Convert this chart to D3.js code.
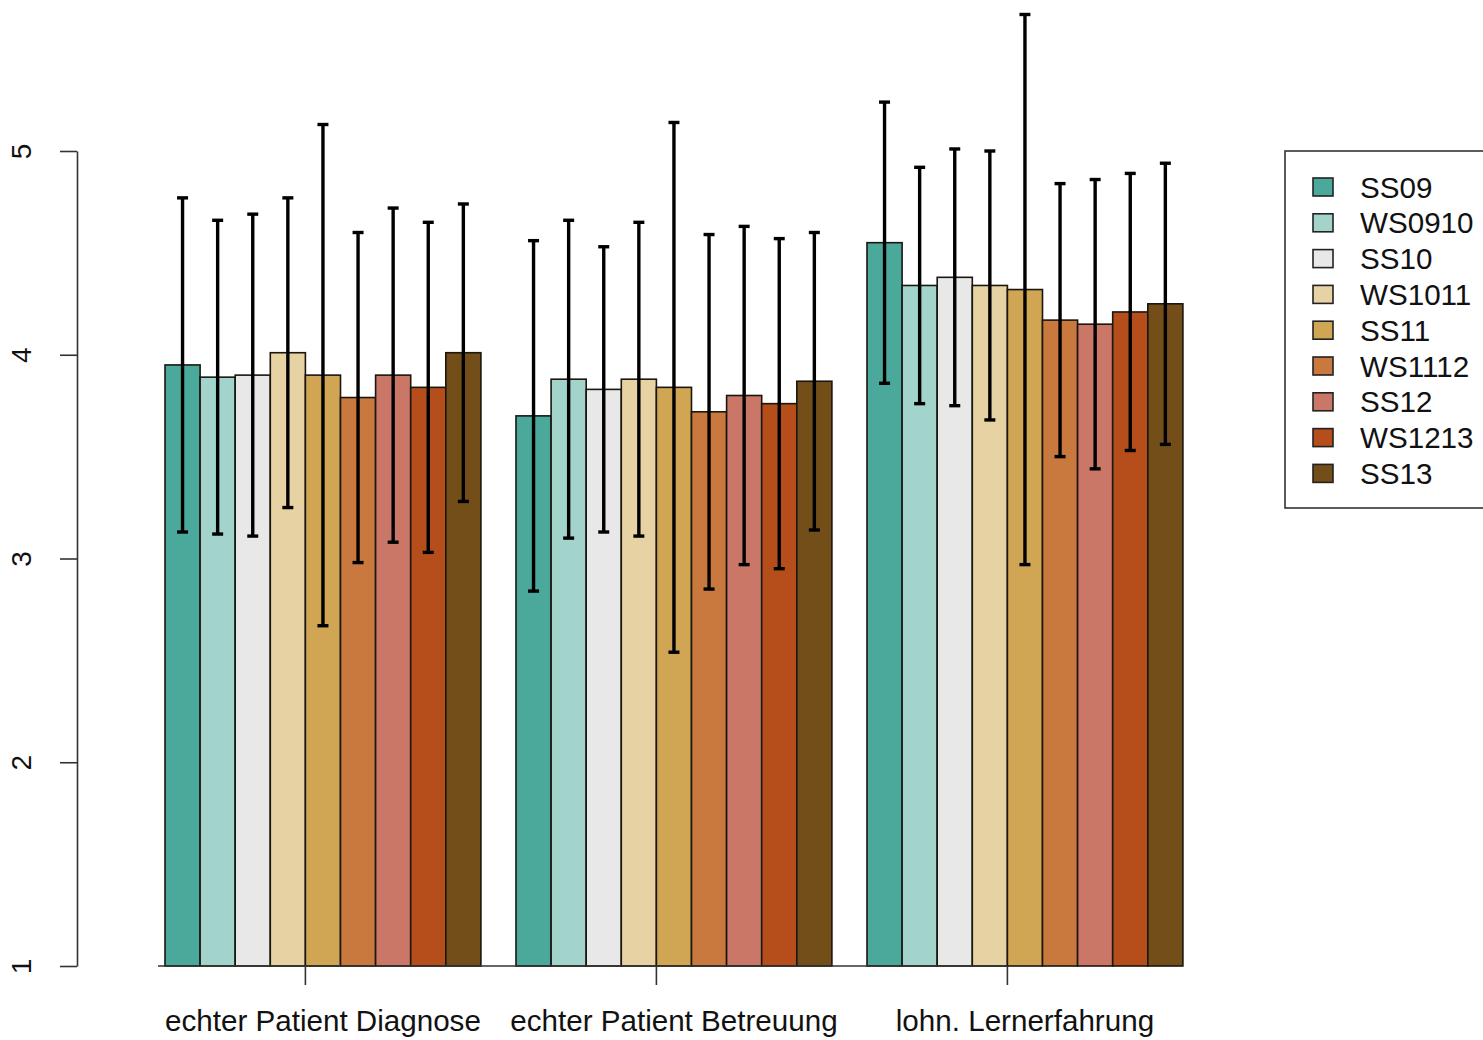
<!DOCTYPE html>
<html>
<head>
<meta charset="utf-8">
<script src="https://cdn.jsdelivr.net/npm/d3@7"></script>
<style>
  html, body { margin: 0; padding: 0; background: #fff; }
  svg { display: block; }
  text { font-family: "Liberation Sans", Arial, Helvetica, sans-serif; fill: #111; }
</style>
</head>
<body>
<svg id="chart" width="1483" height="1040"></svg>
<script>
// Item groups on the x axis
const categories = ["echter Patient Diagnose", "echter Patient Betreuung", "lohn. Lernerfahrung"];
// Semesters (one bar per semester inside each group)
const semesters = ["SS09", "WS0910", "SS10", "WS1011", "SS11", "WS1112", "SS12", "WS1213", "SS13"];
const semesterColors = ["#4aa99b", "#a2d4cb", "#e8e8e8", "#e7d2a3", "#d0a553", "#c9783e", "#ca7768", "#b54e1b", "#734e19"];

// Mean ratings, one array per group, ordered as in `semesters`
const meansDiagnose   = [3.95, 3.89, 3.90, 4.01, 3.90, 3.79, 3.90, 3.84, 4.01];
const meansBetreuung  = [3.70, 3.88, 3.83, 3.88, 3.84, 3.72, 3.80, 3.76, 3.87];
const meansLernerf    = [4.55, 4.34, 4.38, 4.34, 4.32, 4.17, 4.15, 4.21, 4.25];
// Standard deviations (half-length of the error bars)
const sdDiagnose      = [0.82, 0.77, 0.79, 0.76, 1.23, 0.81, 0.82, 0.81, 0.73];
const sdBetreuung     = [0.86, 0.78, 0.70, 0.77, 1.30, 0.87, 0.83, 0.81, 0.73];
const sdLernerf       = [0.69, 0.58, 0.63, 0.66, 1.35, 0.67, 0.71, 0.68, 0.69];

const yTicks = [1, 2, 3, 4, 5];

const means = [meansDiagnose, meansBetreuung, meansLernerf];
const sds = [sdDiagnose, sdBetreuung, sdLernerf];

const svg = d3.select("#chart");

// Bar slots: each group holds one spacer slot followed by nine bars
const slotsPerGroup = semesters.length + 1;
const x = d3.scaleLinear().domain([0, categories.length * slotsPerGroup]).range([129.9, 129.9 + 30 * 35.1]);
const y = d3.scaleLinear().domain([1, 5]).range([966, 151]);

const bars = [];
categories.forEach((c, g) => {
  semesters.forEach((s, i) => {
    bars.push({ g, i, mean: means[g][i], sd: sds[g][i], color: semesterColors[i], x0: g * slotsPerGroup + 1 + i });
  });
});

// Bars
svg.append("g").selectAll("rect").data(bars).join("rect")
  .attr("x", d => x(d.x0))
  .attr("y", d => y(d.mean))
  .attr("width", d => x(d.x0 + 1) - x(d.x0))
  .attr("height", d => y(1) - y(d.mean))
  .attr("fill", d => d.color)
  .attr("stroke", "#1a1610")
  .attr("stroke-width", 1.6);

// Error bars (mean ± sd)
const eb = svg.append("g").attr("stroke", "#000").attr("stroke-width", 3.4).attr("fill", "none");
bars.forEach(d => {
  const cx = x(d.x0 + 0.5);
  const top = y(d.mean + d.sd), bot = y(d.mean - d.sd);
  eb.append("line").attr("x1", cx).attr("x2", cx).attr("y1", top).attr("y2", bot);
  eb.append("line").attr("x1", cx - 5.5).attr("x2", cx + 5.5).attr("y1", top).attr("y2", top);
  eb.append("line").attr("x1", cx - 5.5).attr("x2", cx + 5.5).attr("y1", bot).attr("y2", bot);
});

// Y axis (R style: rotated labels, ticks pointing left)
const yAxis = d3.axisLeft(y).tickValues(yTicks).tickSize(17).tickSizeOuter(0).tickPadding(0).tickFormat(d3.format("d"));
const gy = svg.append("g").attr("transform", "translate(77,0)").call(yAxis);
gy.select(".domain").attr("stroke", "#333").attr("stroke-width", 1.6);
gy.selectAll(".tick line").attr("stroke", "#333").attr("stroke-width", 1.6);
gy.selectAll(".tick text")
  .attr("x", 0).attr("dy", null)
  .attr("transform", "translate(-53,0) rotate(-90)")
  .attr("text-anchor", "middle")
  .attr("dominant-baseline", "middle")
  .style("font-size", "28px");

// X axis: baseline with ticks between 4th and 5th bar of each group
const tickPos = categories.map((c, g) => g * slotsPerGroup + 5);
const ax = svg.append("g").attr("stroke", "#333").attr("stroke-width", 1.6);
ax.append("line").attr("x1", x(0.8)).attr("x2", x(tickPos[tickPos.length - 1])).attr("y1", y(1)).attr("y2", y(1));
tickPos.forEach(t => {
  ax.append("line").attr("x1", x(t)).attr("x2", x(t)).attr("y1", y(1)).attr("y2", y(1) + 19);
});
svg.append("g").selectAll("text").data(categories).join("text")
  .attr("x", (c, g) => x(g * slotsPerGroup + 5.5))
  .attr("y", 1031)
  .attr("text-anchor", "middle")
  .style("font-size", "29.6px")
  .text(c => c);

// Legend
const lg = svg.append("g");
lg.append("rect").attr("x", 1285).attr("y", 151).attr("width", 260).attr("height", 357)
  .attr("fill", "#fff").attr("stroke", "#333").attr("stroke-width", 1.6);
semesters.forEach((s, i) => {
  const cy = 187 + i * 35.8;
  lg.append("rect").attr("x", 1313).attr("y", cy - 9).attr("width", 20).attr("height", 18)
    .attr("fill", semesterColors[i]).attr("stroke", "#222").attr("stroke-width", 1.6);
  lg.append("text").attr("x", 1360).attr("y", cy).attr("dy", "0.36em")
    .style("font-size", "29.6px").text(s);
});
</script>
</body>
</html>
